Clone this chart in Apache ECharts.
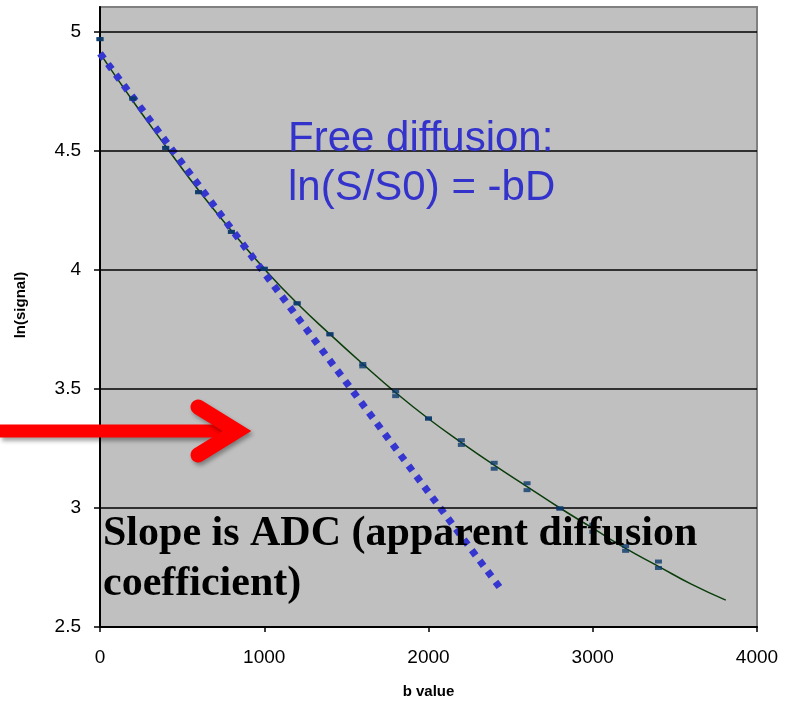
<!DOCTYPE html>
<html><head><meta charset="utf-8">
<script src="https://cdn.jsdelivr.net/npm/echarts@6/dist/echarts.min.js"></script>
<style>html,body{margin:0;padding:0;background:#fff}#c{width:788px;height:704px}</style>
</head><body><div id="c"></div>
<script>
// measured points (upper / lower dash of each marker)
const bValues = [0,200,400,600,800,1000,1200,1400,1600,1800,2000,2200,2400,2600,2800,3000,3200,3400];
const signalHi = [4.97,4.72,4.513,4.327,4.16,4.005,3.86,3.73,3.605,3.49,3.376,3.285,3.19,3.104,2.998,2.93,2.84,2.775];
const signalLo = [4.97,4.72,4.513,4.327,4.16,4.005,3.86,3.73,3.595,3.47,3.376,3.265,3.165,3.075,2.998,2.90,2.82,2.748];
// fitted trend curve
const trendB = [0,200,400,600,800,1000,1200,1400,1600,1800,2000,2200,2400,2600,2800,3000,3200,3400,3600,3810];
const trendVals = [4.91,4.71,4.52,4.335,4.165,4.005,3.86,3.73,3.605,3.485,3.375,3.275,3.18,3.09,3.0,2.915,2.83,2.755,2.68,2.613];
// free-diffusion straight line (end points)
const freeB = [0,2435];
const freeVals = [4.91,2.665];
// axis ticks
const yTicks = [2.5,3,3.5,4,4.5,5];
const xTicks = [0,1000,2000,3000,4000];

const zip = (a,b)=>a.map((v,i)=>[v,b[i]]);
const chart = echarts.init(document.getElementById('c'));
chart.setOption({
  animation:false,
  grid:{left:100,right:31,top:7,bottom:77,show:true,backgroundColor:'#C0C0C0',borderColor:'#808080',borderWidth:2},
  xAxis:{type:'value',min:0,max:4000,interval:1000,
    name:'b value',nameLocation:'middle',nameGap:57,
    nameTextStyle:{fontFamily:'Liberation Sans',fontWeight:'bold',fontSize:15,color:'#000'},
    axisLine:{show:true,onZero:false,lineStyle:{color:'#000',width:2}},
    axisTick:{show:true,inside:false,length:5,customValues:xTicks,lineStyle:{color:'#000',width:1.5}},
    axisLabel:{margin:21,fontFamily:'Liberation Sans',fontSize:19,color:'#000',customValues:xTicks,
      formatter:v=>String(v)},
    splitLine:{show:false}},
  yAxis:{type:'value',min:2.5,max:5.105,interval:0.5,
    axisLine:{show:true,onZero:false,lineStyle:{color:'#000',width:2}},
    axisTick:{show:true,inside:false,length:6,customValues:yTicks,lineStyle:{color:'#000',width:1.5}},
    axisLabel:{margin:19,fontFamily:'Liberation Sans',fontSize:19,color:'#000',customValues:yTicks,
      formatter:v=>String(Math.round(v*10)/10)},
    splitLine:{show:false}},
  series:[
    {type:'line',data:[],symbol:'none',silent:true,z:1,
      markLine:{silent:true,symbol:'none',label:{show:false},
        lineStyle:{color:'#000',width:1.5,type:'solid'},
        data:yTicks.filter(v=>v>2.5).map(v=>({yAxis:v}))}},
    {type:'line',data:zip(trendB,trendVals),smooth:true,symbol:'none',z:3,
      lineStyle:{color:'#0B3D0B',width:1.5}},
    {type:'line',data:zip(freeB,freeVals),symbol:'none',z:4,
      lineStyle:{color:'#3535D0',width:7,type:[6.5,6.7],cap:'butt'}},
    {type:'scatter',data:zip(bValues,signalHi),symbol:'rect',symbolSize:[7,4],z:5,
      itemStyle:{color:'#0B3A6B'}},
    {type:'scatter',data:zip(bValues,signalLo),symbol:'rect',symbolSize:[7,4],z:5,
      itemStyle:{color:'#0B3A6B'}}
  ],
  graphic:[
    {type:'text',left:288,top:115,z:10,style:{text:'Free diffusion:\nln(S/S0) = -bD',font:'42px "Liberation Sans"',fill:'#3333CC',lineHeight:49}},
    {type:'text',left:103,top:509,z:10,style:{text:'Slope is ADC (apparent diffusion\ncoefficient)',font:'bold 42px "Liberation Serif"',fill:'#000',lineHeight:50}},
    {type:'text',x:21,y:305,rotation:Math.PI/2,z:10,style:{text:'ln(signal)',font:'bold 15px "Liberation Sans"',fill:'#000',align:'center',verticalAlign:'middle'}},
    {type:'polyline',z:20,shape:{points:[[0,431],[232,431]]},
      style:{stroke:'#FF0000',lineWidth:13,lineCap:'butt',shadowBlur:4,shadowOffsetX:2,shadowOffsetY:3,shadowColor:'rgba(0,0,0,0.35)'}},
    {type:'polyline',z:20,shape:{points:[[198,407],[237,431],[198,455]]},
      style:{stroke:'#FF0000',lineWidth:15,lineCap:'round',lineJoin:'miter',shadowBlur:4,shadowOffsetX:2,shadowOffsetY:3,shadowColor:'rgba(0,0,0,0.35)'}}
  ]
});
</script></body></html>
